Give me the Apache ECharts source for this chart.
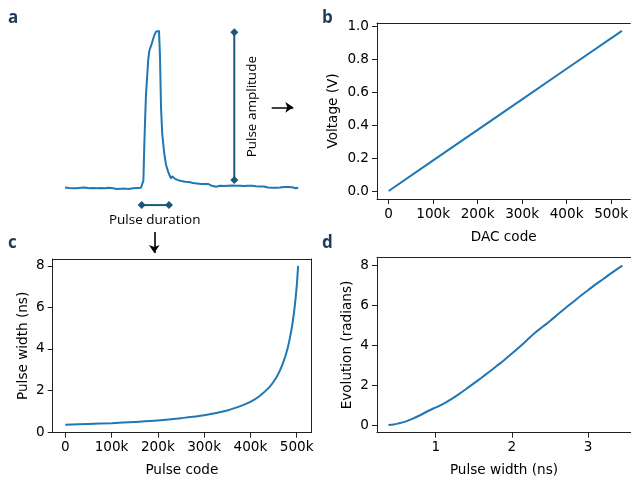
<!DOCTYPE html>
<html><head><meta charset="utf-8">
<script src="https://cdn.jsdelivr.net/npm/echarts@6/dist/echarts.min.js"></script>
<style>html,body{margin:0;padding:0;background:#fff}#c{width:631px;height:479px}</style>
</head><body><div id="c"></div>
<script>
// Panel a: oscilloscope trace (time in samples, normalized amplitude)
const traceTime = [0,1,2,3,4,5,6,7,8,9,10,11,12,13,14,15,16,17,18,19,20,21,22,23,24,25,26,27,28,29,30,31,32,33,34,35,36,37,38,38.8,39.2,39.6,40,40.5,41.1,41.6,42.2,43.3,44.6,45.5,46.2,47,47.5,48,48.6,49.5,50.5,51.6,52.4,53,53.6,54.3,55,55.8,56.6,57.5,58.3,59.2,60,61,62,63,64,65,66,67,68,69,70,70.8,71.5,72.5,73.5,74.5,75.5,76.5,77.5,78.5,79.5,80.5,81.5,82.5,83.5,84.5,85.5,86.5,87.5,88.5,89.5,90.5,91.5,92.5,93.5,94.5,95.5,96.5,97.5,98.5,99.5,100.5,101.5,102.5,103.5,104.5,105.5,106.5,107.5,108.5,109.5,110.5,111.5,112.5,113.5,114.5,115.5,116.6];
const traceAmp = [0.005,-0.004,0.002,-0.006,0.000,0.007,0.001,-0.003,0.004,-0.002,0.005,-0.004,0.001,-0.007,0.002,-0.003,0.000,-0.008,0.002,-0.004,0.001,-0.003,0.004,-0.005,0.000,0.003,-0.004,0.001,-0.003,0.004,-0.002,0.002,-0.004,0.001,0.000,0.005,0.002,0.009,0.004,0.012,0.05,0.25,0.42,0.6,0.72,0.82,0.88,0.92,0.975,1.0,0.99,1.005,0.84,0.52,0.35,0.235,0.15,0.105,0.08,0.063,0.078,0.07,0.06,0.064,0.052,0.05,0.046,0.05,0.042,0.046,0.04,0.038,0.034,0.038,0.031,0.035,0.028,0.032,0.027,0.038,0.028,0.02,0.016,0.014,0.01,0.013,0.016,0.019,0.015,0.021,0.017,0.013,0.018,0.011,0.017,0.012,0.016,0.01,0.015,0.011,0.017,0.012,0.016,0.009,0.013,0.007,0.012,0.006,0.011,0.013,0.005,0.01,0.004,0.009,0.003,0.01,0.005,0.002,0.008,0.003,0.009,0.001,0.007,0.002,0.0,0.004];
const amplitudeBar = [[84.65, 0.996], [84.65, 0.053]];
const durationBar = [[38.35, -0.107], [52, -0.107]];
const arrowRight = [[103.35, 0.517], [114.15, 0.517]];
const arrowDown = [[44.65, -0.279], [44.65, -0.413]];

// Panel b: DAC code vs voltage
const dacCode = [0, 100000, 200000, 300000, 400000, 524288];
const dacVoltage = [0, 0.186, 0.372, 0.558, 0.744, 0.975];

// Panel c: pulse code vs pulse width (ns)
const pulseCode = [0,50000,100000,150000,200000,250000,300000,350000,380000,400000,420000,440000,450000,460000,470000,480000,485000,490000,495000,500000,503000];
const pulseWidthC = [0.35,0.39,0.43,0.49,0.56,0.67,0.81,1.04,1.26,1.45,1.74,2.14,2.42,2.79,3.29,4.0,4.5,5.1,5.9,7.0,8.0];

// Panel d: pulse width vs evolution (radians)
const pulseWidthD = [0.38,0.45,0.5,0.6,0.7,0.8,0.9,1.0,1.1,1.2,1.3,1.4,1.5,1.6,1.7,1.8,1.9,2.0,2.1,2.2,2.3,2.4,2.5,2.6,2.7,2.8,2.9,3.0,3.1,3.2,3.3,3.45];
const evolution = [0,0.03,0.07,0.17,0.32,0.5,0.7,0.88,1.06,1.28,1.53,1.8,2.08,2.36,2.65,2.95,3.25,3.57,3.9,4.25,4.6,4.9,5.2,5.52,5.84,6.14,6.45,6.74,7.03,7.3,7.58,7.97];

const kTicks = [0,100000,200000,300000,400000,500000];
const voltTicks = [0,0.2,0.4,0.6,0.8,1.0];
const widthTicks = [0,2,4,6,8];
const nsTicks = [1,2,3];

const zip = (a,b) => a.map((v,i)=>[v,b[i]]);
const FONT = 'DejaVu Sans';
const FS = 13.6;
const BLUE = '#1f77b4';
const TEAL = '#1a5a78';
const SPINE = '#222';
const kFmt = v => v === 0 ? '0' : (v/1000) + 'k';

function mkAxis(gi, min, max, ticks, fmt, name, gap) {
  return {
    gridIndex: gi, type: 'value', min, max,
    name, nameLocation: 'middle', nameGap: gap,
    nameTextStyle: {fontFamily: FONT, fontSize: FS, color: '#000'},
    axisLine: {show: true, onZero: false, lineStyle: {color: SPINE, width: 1}},
    axisTick: {show: true, length: 5, customValues: ticks, lineStyle: {color: SPINE, width: 1}},
    axisLabel: {customValues: ticks, formatter: fmt, fontFamily: FONT, fontSize: FS, color: '#000', margin: 8},
    splitLine: {show: false}
  };
}
function spine(gi, min, max, position) {
  return {gridIndex: gi, type: 'value', min, max, position,
    axisLine: {show: true, onZero: false, lineStyle: {color: SPINE, width: 1}},
    axisTick: {show: false}, axisLabel: {show: false}, splitLine: {show: false}};
}

const option = {
  animation: false,
  grid: [
    {left: 65, width: 234, top: 16, bottom: 220.2},
    {left: 377, width: 254, top: 23, bottom: 280},
    {left: 52.7, right: 320, top: 259, bottom: 46.3},
    {left: 377, width: 254, top: 257.3, bottom: 46.3}
  ],
  xAxis: [
    {gridIndex: 0, type: 'value', min: 0, max: 117, show: false},
    mkAxis(1, -26214, 543293, kTicks, kFmt, 'DAC code', 31),
    mkAxis(2, -27200, 530900, kTicks, kFmt, 'Pulse code', 31),
    mkAxis(3, 0.229, 3.564, nsTicks, v => String(v), 'Pulse width (ns)', 31),
    spine(1, -26214, 543293, 'top'),
    spine(2, -27200, 530900, 'top'),
    spine(3, 0.229, 3.564, 'top')
  ],
  yAxis: [
    {gridIndex: 0, type: 'value', min: -0.45, max: 1.1, show: false},
    mkAxis(1, -0.0487, 1.0225, voltTicks, v => v.toFixed(1), 'Voltage (V)', 37),
    mkAxis(2, -0.03, 8.33, widthTicks, v => String(v), 'Pulse width (ns)', 22),
    mkAxis(3, -0.385, 8.385, widthTicks, v => String(v), 'Evolution (radians)', 23),
    spine(2, -0.03, 8.33, 'right')
  ],
  series: [
    {type: 'line', xAxisIndex: 0, yAxisIndex: 0, data: zip(traceTime, traceAmp), showSymbol: false, symbol: 'none',
     lineStyle: {color: BLUE, width: 2}, clip: false},
    {type: 'line', xAxisIndex: 0, yAxisIndex: 0, data: amplitudeBar, symbol: 'diamond', symbolSize: 8, showSymbol: true,
     itemStyle: {color: TEAL}, lineStyle: {color: TEAL, width: 2}, clip: false, z: 5},
    {type: 'line', xAxisIndex: 0, yAxisIndex: 0, data: durationBar, symbol: 'diamond', symbolSize: 8, showSymbol: true,
     itemStyle: {color: TEAL}, lineStyle: {color: TEAL, width: 2}, clip: false, z: 5},
    {type: 'lines', coordinateSystem: 'cartesian2d', xAxisIndex: 0, yAxisIndex: 0,
     symbol: ['none', 'arrow'], symbolSize: 8,
     lineStyle: {color: '#000', width: 1.6, opacity: 1},
     data: [{coords: arrowRight}, {coords: arrowDown}], z: 5},
    {type: 'line', xAxisIndex: 1, yAxisIndex: 1, data: zip(dacCode, dacVoltage), symbol: 'none',
     lineStyle: {color: BLUE, width: 2}},
    {type: 'line', xAxisIndex: 2, yAxisIndex: 2, data: zip(pulseCode, pulseWidthC), symbol: 'none', smooth: 0.3,
     lineStyle: {color: BLUE, width: 2}},
    {type: 'line', xAxisIndex: 3, yAxisIndex: 3, data: zip(pulseWidthD, evolution), symbol: 'none', smooth: 0.3,
     lineStyle: {color: BLUE, width: 2}}
  ],
  graphic: [
    {type: 'text', x: 8, y: 27, style: {text: 'a', font: 'bold 17px "Open Sans"', fill: '#1f3b5c', textVerticalAlign: 'bottom'}},
    {type: 'text', x: 322, y: 27, style: {text: 'b', font: 'bold 17px "Open Sans"', fill: '#1f3b5c', textVerticalAlign: 'bottom'}},
    {type: 'text', x: 8, y: 252, style: {text: 'c', font: 'bold 17px "Open Sans"', fill: '#1f3b5c', textVerticalAlign: 'bottom'}},
    {type: 'text', x: 322, y: 252, style: {text: 'd', font: 'bold 17px "Open Sans"', fill: '#1f3b5c', textVerticalAlign: 'bottom'}},
    {type: 'text', x: 252.5, y: 106.7, rotation: Math.PI/2,
     style: {text: 'Pulse amplitude', font: '13.5px "Open Sans"', fill: '#000', textAlign: 'center', textVerticalAlign: 'middle'}},
    {type: 'text', x: 154.7, y: 220.5,
     style: {text: 'Pulse duration', font: '13.5px "Open Sans"', fill: '#000', textAlign: 'center', textVerticalAlign: 'middle'}}
  ]
};
const chart = echarts.init(document.getElementById('c'), null, {renderer: 'canvas'});
chart.setOption(option);
</script></body></html>
